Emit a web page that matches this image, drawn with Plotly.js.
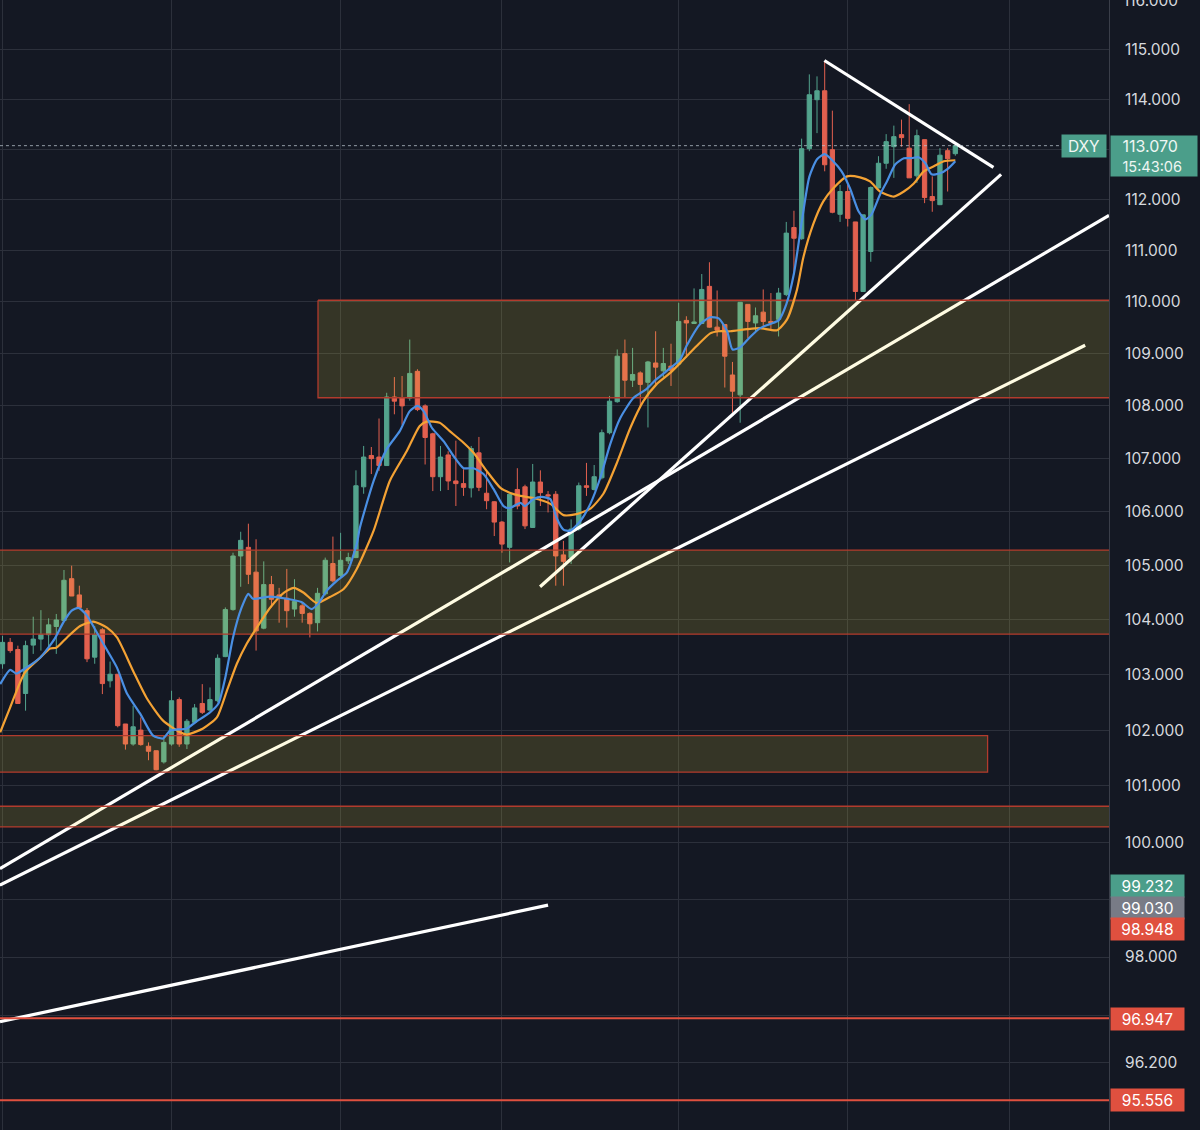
<!DOCTYPE html>
<html><head><meta charset="utf-8">
<script src="https://cdn.plot.ly/plotly-3.0.1.min.js"></script>
<style>html,body{margin:0;padding:0;background:#141823;}</style>
</head><body><div id="chart" style="width:1200px;height:1130px;"></div>
<script>
// Daily DXY candles (trading days, 2 May 2022 -> 21 Oct 2022)
const open = [103.20,103.59,103.46,102.66,103.54,103.65,103.73,103.88,103.99,104.76,
104.46,104.17,103.32,103.82,102.89,103.01,102.11,101.75,102.00,101.71,
101.63,101.43,101.75,102.55,101.75,102.14,102.48,102.36,102.53,103.33,
104.19,105.18,105.34,104.88,103.85,104.65,104.46,104.40,104.20,104.26,
104.12,103.95,104.48,105.04,104.82,105.09,105.15,106.47,107.06,107.03,
106.87,108.17,108.15,108.15,108.66,108.00,107.47,106.66,107.07,106.58,
106.53,106.45,107.11,106.35,106.19,105.81,105.34,106.42,106.47,105.71,
106.56,106.32,106.33,105.20,105.15,105.68,106.49,106.42,106.64,107.49,
108.08,109.00,108.49,108.63,108.45,108.82,108.67,108.76,108.80,109.64,
109.58,109.58,110.30,109.51,109.56,108.59,108.21,109.95,109.59,109.80,
109.62,109.66,110.14,111.45,111.23,113.01,113.99,114.17,112.99,111.71,
112.16,111.56,110.20,110.98,112.23,112.72,113.05,113.29,113.02,112.47,
113.19,112.06,111.90,112.97,112.91];
const high = [103.71,103.67,103.53,103.62,104.06,104.18,104.03,104.11,104.92,105.00,
104.63,104.22,103.89,103.85,103.24,103.01,102.11,102.44,102.23,101.78,
101.63,101.90,102.71,102.59,102.20,102.47,102.83,102.77,103.37,104.23,
105.24,105.63,105.78,105.49,105.08,104.81,104.59,104.94,104.75,104.32,
104.14,104.59,105.15,105.54,105.61,105.24,106.78,107.24,107.22,107.76,
108.25,108.55,108.57,109.27,108.70,108.03,107.49,107.24,107.14,107.34,
106.80,107.24,107.41,106.77,106.20,105.83,106.33,106.82,106.51,106.90,
106.78,106.39,106.39,105.46,105.86,106.55,106.92,106.88,107.55,108.19,
109.08,109.27,109.11,108.66,108.86,109.43,109.11,109.19,109.98,109.72,
110.26,110.54,110.77,110.22,109.56,108.84,109.99,109.95,109.89,110.24,
110.17,110.27,111.56,111.78,113.21,114.50,114.46,114.77,113.77,112.29,
112.29,111.56,111.70,112.26,112.86,113.30,113.47,113.59,113.90,113.39,
113.19,112.46,113.02,113.02,113.09];
const low = [103.11,103.40,102.47,102.35,103.38,103.44,103.50,103.38,103.98,104.44,
104.20,103.23,103.20,102.65,102.77,102.05,101.65,101.72,101.72,101.46,
101.28,101.40,101.72,101.70,101.66,102.11,102.29,102.35,102.50,103.32,
104.17,104.61,104.66,103.44,103.83,104.23,103.95,103.86,104.06,103.95,
103.68,103.79,104.45,104.69,104.79,105.03,105.14,106.34,106.71,106.77,
106.87,107.84,107.64,108.10,107.90,106.89,106.39,106.39,106.41,106.11,
106.30,106.27,106.39,106.05,105.55,105.24,105.06,106.05,105.68,105.70,
106.11,105.99,104.63,104.63,105.03,105.65,106.30,106.40,106.61,107.46,
108.06,108.15,108.36,107.96,107.59,108.38,108.55,108.38,108.79,108.92,
109.58,109.57,109.50,109.33,108.35,107.87,107.68,109.30,109.42,109.50,
109.46,109.33,110.11,110.53,111.21,112.96,113.32,112.56,111.73,111.56,
111.47,110.03,110.19,110.78,112.22,112.61,112.43,113.05,112.43,112.33,
111.93,111.76,111.89,112.16,112.87];
const close = [103.59,103.44,102.48,103.53,103.65,103.73,103.91,104.00,104.73,104.44,
104.23,103.29,103.73,102.84,103.01,102.08,101.75,102.06,101.74,101.62,
101.29,101.78,102.53,101.75,102.16,102.40,102.32,102.55,103.30,104.19,
105.18,105.47,104.84,103.80,104.65,104.38,104.43,104.17,104.34,104.12,
103.93,104.49,105.10,104.72,105.10,105.15,106.49,107.03,107.00,106.87,
108.17,108.09,108.00,108.62,107.93,107.40,106.66,107.03,106.58,106.53,
106.46,107.19,106.46,106.21,105.81,105.40,106.33,106.11,105.74,106.56,
106.36,106.30,105.18,105.08,105.68,106.49,106.46,106.66,107.49,108.09,
108.95,108.49,108.60,108.41,108.84,108.74,108.81,108.68,109.62,109.59,
109.61,110.24,109.51,109.45,108.95,108.28,109.99,109.62,109.73,109.62,
109.59,110.17,111.34,111.24,113.01,114.09,114.17,112.69,111.75,112.16,
111.63,110.20,111.70,112.24,112.72,113.15,113.25,113.23,112.43,113.27,
112.04,111.98,112.88,112.81,113.07];

// Fast moving average (blue), read at positions along the candle index
const maFastAt = [-0.3,1.0,1.8,2.9,4.9,6.8,7.9,9.0,9.9,11.0,12.0,13.1,14.9,16.2,17.9,19.6,20.9,21.8,24.0,25.1,27.0,28.1,29.0,30.0,31.1,32.0,32.6,34.8,37.0,38.9,40.2,41.1,42.2,43.5,44.8,46.1,46.5,48.3,50.0,51.7,53.0,54.0,54.8,55.9,57.4,58.7,60.0,61.3,62.6,63.9,65.2,66.0,67.4,68.0,69.1,70.2,71.3,72.1,73.0,73.9,75.2,76.5,77.8,79.1,80.4,82.1,83.8,85.1,86.9,88.2,89.0,90.8,92.1,93.2,94.3,95.0,96.0,97.3,98.6,99.9,101.0,102.0,103.0,104.0,105.0,106.0,107.0,108.1,109.2,110.3,111.4,112.3,113.1,114.2,115.1,116.2,117.3,118.3,119.2,120.1,120.9,122.0,123.1,124.0];
const maFast = [102.83,103.09,103.02,103.11,103.31,103.66,103.95,104.17,104.22,104.08,103.84,103.57,103.13,102.66,102.30,101.90,101.85,101.99,102.03,102.14,102.32,102.48,102.95,103.68,104.22,104.48,104.39,104.43,104.39,104.33,104.20,104.30,104.54,104.72,104.87,105.40,105.70,106.58,107.18,107.52,107.90,108.00,107.90,107.58,107.33,107.05,106.82,106.82,106.71,106.43,106.11,106.07,106.17,106.11,106.24,106.28,106.24,105.89,105.67,105.65,105.83,106.15,106.64,107.28,107.77,108.15,108.32,108.51,108.72,108.89,109.14,109.57,109.70,109.68,109.43,109.08,109.12,109.32,109.49,109.57,109.64,109.95,110.55,111.55,112.45,112.80,112.90,112.76,112.56,112.22,111.77,111.61,111.71,112.10,112.36,112.70,112.82,112.82,112.84,112.72,112.50,112.52,112.62,112.76];

// Slow moving average (orange)
const maSlowAt = [-0.3,1.0,2.9,4.9,6.2,7.0,8.4,10.1,11.8,13.6,14.9,17.0,18.8,20.9,23.1,24.0,26.1,27.9,29.2,30.5,31.8,33.1,34.8,36.6,37.9,39.2,40.9,42.6,44.4,46.1,48.3,50.4,52.6,54.3,55.2,56.9,58.2,60.0,61.3,63.0,64.8,66.0,67.4,69.1,71.3,73.0,74.7,76.5,78.2,79.9,81.7,83.4,85.1,86.9,88.2,90.3,92.1,93.2,94.7,96.9,98.6,100.8,102.1,103.4,104.2,105.5,106.8,108.1,109.9,111.6,112.9,114.2,116.0,117.3,118.6,119.9,121.2,122.5,124.0];
const maSlow = [101.96,102.41,103.04,103.31,103.48,103.49,103.68,103.89,103.97,103.86,103.68,103.07,102.57,102.17,101.96,101.92,102.03,102.23,102.71,103.20,103.57,103.86,104.22,104.50,104.59,104.50,104.31,104.42,104.57,104.94,105.65,106.58,107.14,107.62,107.70,107.68,107.52,107.30,107.11,106.77,106.45,106.36,106.30,106.26,106.15,105.94,105.96,106.06,106.34,106.90,107.58,108.09,108.41,108.63,108.82,109.14,109.39,109.43,109.43,109.47,109.49,109.45,109.66,110.24,110.85,111.51,111.96,112.22,112.46,112.44,112.36,112.16,112.06,112.16,112.32,112.56,112.66,112.76,112.78];

// Hand-drawn trend lines (start/end on candle index and price)
const trendStartAt = [-0.33, -0.33, 69.96, 106.96, -0.33];
const trendStartVal = [99.54, 99.25, 104.61, 114.78, 96.89];
const trendEndAt = [144.0, 140.9, 129.96, 128.96, 71.0];
const trendEndVal = [111.69, 109.16, 112.50, 112.64, 98.90];

// Shaded zones
const zoneFrom = [41.06, -2, -2, -2];
const zoneTo = [150, 150, 128.2, 150];
const zoneTop = [110.03, 105.29, 101.90, 100.64];
const zoneBottom = [108.155, 103.74, 101.246, 100.274];

// Horizontal red levels
const levelValues = [96.947, 95.556];

// Axis labels on the price scale
const priceLabelValues = [99.232, 99.030, 98.948, 96.947, 95.556];
const priceLabelColors = ['#4b9e8a', '#787b86', '#e0503f', '#e0503f', '#e0503f'];
const yTickVals = [115,114,113,112,111,110,109,108,107,106,105,104,103,102,101,100,99,98,97,96.2];
const yTickText = ['115.000','114.000','','112.000','111.000','110.000','109.000','108.000','107.000','106.000','105.000','104.000','103.000','102.000','101.000','100.000','','98.000','','96.200'];
const topCutTick = 116;
const monthStartIdx = [0, 22, 44, 65, 88, 110, 131];
const lastPrice = 113.07;
const symbol = 'DXY';
const countdown = '15:43:06';

const candleIdx = open.map((_, k) => k);
const traces = [];

for (let k = 0; k < trendStartAt.length; k++) {
  traces.push({type:'scatter', mode:'lines', x:[trendStartAt[k], trendEndAt[k]], y:[trendStartVal[k], trendEndVal[k]],
    line:{color:'#ffffff', width:3.2}, hoverinfo:'skip', showlegend:false});
}
for (let k = 0; k < zoneTop.length; k++) {
  traces.push({type:'scatter', mode:'lines', fill:'toself', fillcolor:'rgba(255,235,59,0.14)',
    x:[zoneFrom[k], zoneTo[k], zoneTo[k], zoneFrom[k], zoneFrom[k]],
    y:[zoneTop[k], zoneTop[k], zoneBottom[k], zoneBottom[k], zoneTop[k]],
    line:{color:'#b23b2d', width:1.3}, hoverinfo:'skip', showlegend:false});
}
levelValues.forEach(v => {
  traces.push({type:'scatter', mode:'lines', x:[-2, 150], y:[v, v], line:{color:'#e0503f', width:2}, hoverinfo:'skip', showlegend:false});
});
traces.push({type:'scatter', mode:'lines', x:[-0.33, 137.9], y:[lastPrice, lastPrice],
  line:{color:'rgba(190,200,210,0.75)', width:1, dash:'dot'}, hoverinfo:'skip', showlegend:false});

traces.push({type:'candlestick', x:candleIdx, open:open, high:high, low:low, close:close,
  increasing:{line:{color:'#53a38d', width:1}, fillcolor:'#53a38d'},
  decreasing:{line:{color:'#e2604f', width:1}, fillcolor:'#e2604f'},
  whiskerwidth:0, hoverinfo:'skip', showlegend:false});

traces.push({type:'scatter', mode:'lines', x:maSlowAt, y:maSlow, line:{color:'#f4a234', width:2.2, shape:'spline', smoothing:0.6}, hoverinfo:'skip', showlegend:false});
traces.push({type:'scatter', mode:'lines', x:maFastAt, y:maFast, line:{color:'#4a8fe3', width:2.2, shape:'spline', smoothing:0.6}, hoverinfo:'skip', showlegend:false});

const annotations = [];
annotations.push({xref:'paper', yref:'y', x:1, y:Math.log10(topCutTick), xanchor:'left', yanchor:'middle', xshift:12,
  text:topCutTick.toFixed(3), showarrow:false, font:{family:'Inter, Roboto, sans-serif', size:15.5, color:'#d6d8de'}});
annotations.push({xref:'paper', yref:'y', x:1, y:Math.log10(lastPrice), xanchor:'right', yanchor:'middle', xshift:-2,
  text:symbol, showarrow:false, bgcolor:'#4b9e8a', borderpad:2, width:40, height:18,
  font:{family:'Inter, Roboto, sans-serif', size:15.5, color:'#f2f7f5'}});
annotations.push({xref:'paper', yref:'y', x:1, y:Math.log10(lastPrice), xanchor:'left', yanchor:'middle', xshift:1, yshift:-10,
  text:'&nbsp;&nbsp;<span style="font-size:16px">' + lastPrice.toFixed(3) + '</span><br>&nbsp;&nbsp;<span style="font-size:14.5px">' + countdown + '</span>',
  align:'left', showarrow:false, bgcolor:'#4b9e8a', borderpad:3, width:80, height:34,
  font:{family:'Inter, Roboto, sans-serif', size:15, color:'#eef6f3'}});
const labelShift = [0, -10, -27, -1, 0];
priceLabelValues.forEach((v, k) => {
  annotations.push({xref:'paper', yref:'y', x:1, y:Math.log10(v), xanchor:'left', yanchor:'middle', xshift:1, yshift:labelShift[k],
    text:v.toFixed(3), showarrow:false, bgcolor:priceLabelColors[k], borderpad:2.5, width:68, height:17,
    font:{family:'Inter, Roboto, sans-serif', size:15.5, color:'#ffffff'}});
});

const layout = {
  width:1200, height:1130,
  paper_bgcolor:'#141823', plot_bgcolor:'#141823',
  margin:{l:0, r:91, t:0, b:0, pad:0},
  showlegend:false, hovermode:false, dragmode:false,
  boxgap:0.2,
  xaxis:{type:'linear', range:[-0.325, 144.0], tickvals:monthStartIdx, showticklabels:false, ticks:'',
    showgrid:true, gridcolor:'#2c303b', gridwidth:1, zeroline:false, showline:false,
    rangeslider:{visible:false}, fixedrange:true},
  yaxis:{type:'log', side:'right', range:[1.977983, 2.0645], tickvals:yTickVals, ticktext:yTickText,
    showgrid:true, gridcolor:'#2c303b', gridwidth:1, zeroline:false, showline:true, linecolor:'#3a3e49', linewidth:1,
    ticks:'', ticklabelstandoff:12, tickfont:{family:'Inter, Roboto, sans-serif', size:15.5, color:'#d6d8de'}, fixedrange:true},
  annotations:annotations
};

Plotly.newPlot('chart', traces, layout, {displayModeBar:false, staticPlot:true});
</script>
</body></html>
